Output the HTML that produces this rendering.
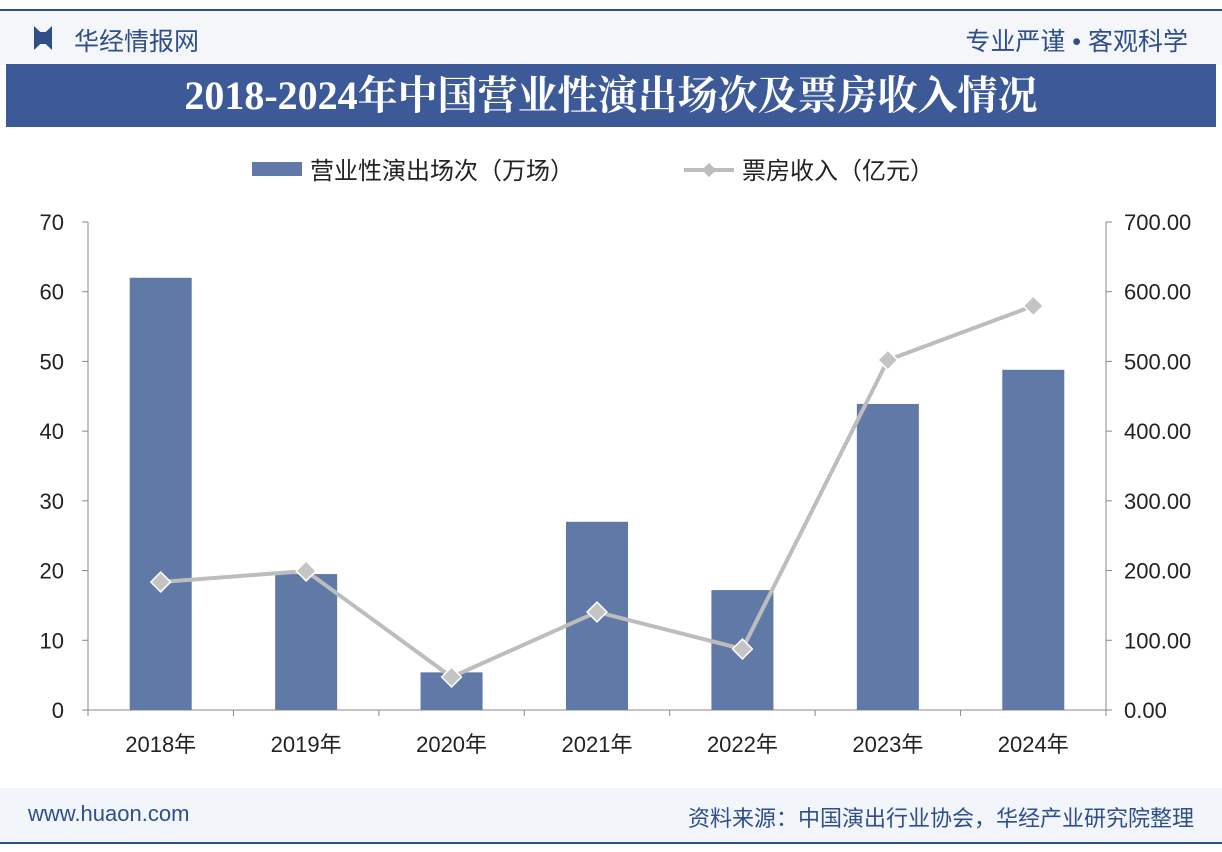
<!DOCTYPE html>
<html><head><meta charset="utf-8">
<style>
body{margin:0;width:1222px;height:852px;background:#fff;font-family:"Liberation Sans","Noto Sans CJK SC",sans-serif;position:relative;overflow:hidden}
.abs{position:absolute}
</style></head>
<body>
<div class="abs" style="left:0;top:9px;width:1222px;height:54px;background:#f4f6fa;border-top:2px solid #2f4f8a"></div>
<div class="abs" style="left:34px;top:26px;width:18px;height:24px;background:#2f4f8a;clip-path:polygon(0 0,35% 25%,65% 25%,100% 0,100% 100%,65% 75%,35% 75%,0 100%)"></div>
<div class="abs" style="left:74px;top:22px;font-size:25px;color:#2f4f8a">华经情报网</div>
<div class="abs" style="right:34px;top:22px;font-size:25px;color:#2f4f8a">专业严谨 • 客观科学</div>
<div class="abs" style="left:6px;top:64px;width:1210px;height:63px;background:#3d5a98;color:#fff;font-size:40px;font-weight:bold;text-align:center;line-height:63px;font-family:'Liberation Serif','Noto Serif CJK SC',serif">2018-2024年中国营业性演出场次及票房收入情况</div>
<div class="abs" style="left:0;top:788px;width:1222px;height:54px;background:#f2f5fa;border-bottom:2px solid #2f4f8a"></div>
<div class="abs" style="left:28px;top:801px;font-size:22px;color:#2f4f8a">www.huaon.com</div>
<div class="abs" style="right:28px;top:801px;font-size:22px;color:#2f4f8a">资料来源：中国演出行业协会，华经产业研究院整理</div>
<svg class="abs" style="left:0;top:0" width="1222" height="852" id="chart"></svg>
<script>
const categories=["2018年","2019年","2020年","2021年","2022年","2023年","2024年"];
const shows=[62,19.5,5.4,27,17.2,43.9,48.8];
const revenue=[183.6,199.4,47.3,140.6,87.5,502,579.6];
const leftTicks=[0,10,20,30,40,50,60,70];
const rightTicks=[0,100,200,300,400,500,600,700];
const svg=document.getElementById('chart');
const NS="http://www.w3.org/2000/svg";
const x0=88,x1=1106,yTop=222,yBot=710;
const band=(x1-x0)/categories.length;
const yL=v=>yBot-(v/70)*(yBot-yTop);
const yR=v=>yBot-(v/700)*(yBot-yTop);
const xc=i=>x0+band*(i+0.5);
function mk(t,a,txt){const e=document.createElementNS(NS,t);for(const k in a)e.setAttribute(k,a[k]);if(txt!==undefined)e.textContent=txt;svg.appendChild(e);return e;}
let e;
e=mk('line',{x1:x0,y1:yTop,x2:x0,y2:yBot,stroke:'#888'});

e=mk('line',{x1:x1,y1:yTop,x2:x1,y2:yBot,stroke:'#888'});

e=mk('line',{x1:x0,y1:yBot,x2:x1,y2:yBot,stroke:'#888'});

leftTicks.forEach(v=>{
 mk('line',{x1:x0-6,y1:yL(v),x2:x0,y2:yL(v),stroke:'#888'});
 e=mk('text',{x:64,y:yL(v)+8,'text-anchor':'end','font-size':22,fill:'#222'},v);
 
});
rightTicks.forEach(v=>{
 mk('line',{x1:x1,y1:yR(v),x2:x1+6,y2:yR(v),stroke:'#888'});
 e=mk('text',{x:1124,y:yR(v)+8,'font-size':22,fill:'#222'},v.toFixed(2));
 
});
for(let i=0;i<=categories.length;i++)mk('line',{x1:x0+band*i,y1:yBot,x2:x0+band*i,y2:yBot+6,stroke:'#888'});
categories.forEach((c,i)=>{
 e=mk('rect',{x:xc(i)-31,y:yL(shows[i]),width:62,height:yBot-yL(shows[i]),fill:'#6179a6'});
 
 e=mk('text',{x:xc(i),y:752,'text-anchor':'middle','font-size':22,fill:'#222'},c);
 
});
e=mk('polyline',{points:revenue.map((v,i)=>xc(i)+','+yR(v)).join(' '),fill:'none',stroke:'#bdbdbd','stroke-width':4});

revenue.forEach((v,i)=>{
 e=mk('rect',{x:xc(i)-7,y:yR(v)-7,width:14,height:14,fill:'#c4c4c4',stroke:'#fff','stroke-width':1.5,transform:`rotate(45 ${xc(i)} ${yR(v)})`});
 
});
e=mk('rect',{x:252,y:162,width:50,height:14,fill:'#6179a6'});

e=mk('text',{x:310,y:179,'font-size':24,fill:'#222'},'营业性演出场次（万场）');

mk('line',{x1:684,y1:170,x2:734,y2:170,stroke:'#bdbdbd','stroke-width':4});
e=mk('rect',{x:704,y:165,width:10,height:10,fill:'#bdbdbd',transform:'rotate(45 709 170)'});

e=mk('text',{x:742,y:179,'font-size':24,fill:'#222'},'票房收入（亿元）');

</script>
</body></html>
